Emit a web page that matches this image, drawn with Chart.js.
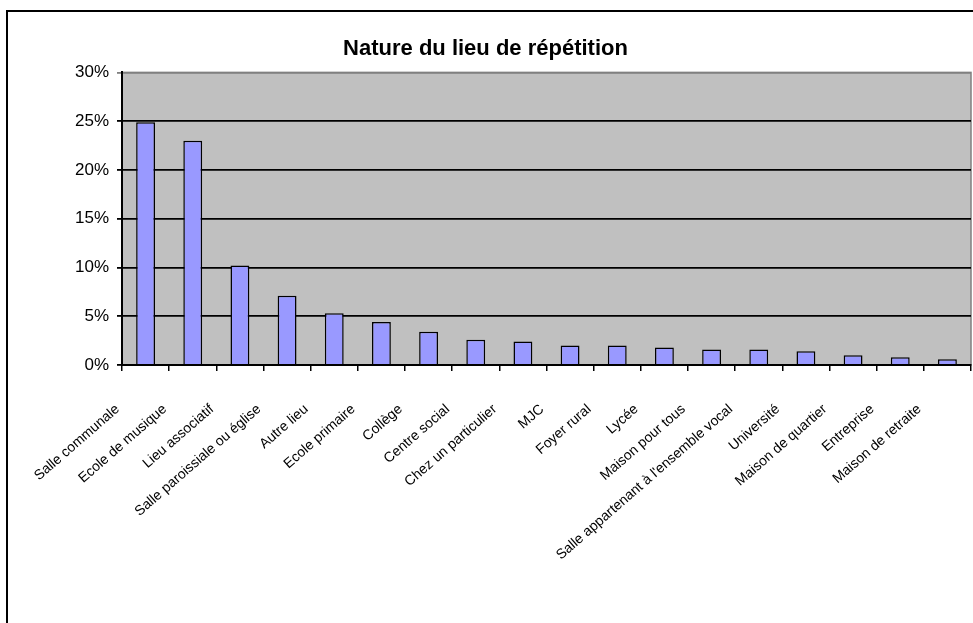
<!DOCTYPE html>
<html>
<head>
<meta charset="utf-8">
<script src="https://cdn.jsdelivr.net/npm/chart.js@4.4.0/dist/chart.umd.min.js"></script>
<style>
html,body{margin:0;padding:0;background:#fff;overflow:hidden}
#wrap{position:relative;width:973px;height:623px}
</style>
</head>
<body>
<div id="wrap"><canvas id="c"></canvas></div>
<script>
const chartTitle = "Nature du lieu de répétition";
const categories = [
  "Salle communale",
  "Ecole de musique",
  "Lieu associatif",
  "Salle paroissiale ou église",
  "Autre lieu",
  "Ecole primaire",
  "Collège",
  "Centre social",
  "Chez un particulier",
  "MJC",
  "Foyer rural",
  "Lycée",
  "Maison pour tous",
  "Salle appartenant à l'ensemble vocal",
  "Université",
  "Maison de quartier",
  "Entreprise",
  "Maison de retraite"
];
const values = [24.9, 23.0, 10.2, 7.1, 5.3, 4.4, 3.4, 2.6, 2.4, 2.0, 2.0, 1.8, 1.6, 1.6, 1.4, 1.0, 0.8, 0.6];
const yMin = 0, yMax = 30, yStep = 5;

const FONT = "'Liberation Sans', Arial, sans-serif";

const framePlugin = {
  id: 'frame',
  beforeDraw(chart) {
    const {ctx, chartArea: a} = chart;
    ctx.save();
    ctx.fillStyle = '#fff';
    ctx.fillRect(0, 0, chart.width, chart.height);
    ctx.strokeStyle = '#000';
    ctx.lineWidth = 2;
    ctx.strokeRect(7, 11, chart.width + 40, chart.height + 40);
    ctx.fillStyle = '#c0c0c0';
    ctx.fillRect(a.left, a.top, a.right - a.left, a.bottom - a.top);
    ctx.strokeStyle = '#808080';
    ctx.lineWidth = 1.5;
    ctx.strokeRect(a.left, a.top, a.right - a.left, a.bottom - a.top);
    ctx.restore();
  }
};

new Chart(document.getElementById('c'), {
  type: 'bar',
  data: {
    labels: categories,
    datasets: [{
      data: values,
      backgroundColor: '#9999ff',
      borderColor: '#000',
      borderWidth: 1.5,
      barPercentage: 0.4,
      categoryPercentage: 1
    }]
  },
  options: {
    responsive: true,
    maintainAspectRatio: false,
    animation: false,
    layout: {padding: {left: 0, right: 2, top: 0, bottom: 0}},
    plugins: {
      legend: {display: false},
      tooltip: {enabled: false},
      title: {
        display: true,
        text: chartTitle,
        color: '#000',
        font: {family: FONT, size: 22, weight: 'bold'},
        padding: {top: 36, bottom: 10}
      }
    },
    scales: {
      x: {
        type: 'category',
        grid: {offset: true, drawOnChartArea: false, drawTicks: true, tickLength: 6, color: '#000', lineWidth: 1.5},
        border: {color: '#000', width: 2},
        ticks: {
          autoSkip: false, maxRotation: 41, minRotation: 41,
          color: '#000',
          font: {family: FONT, size: 14},
          padding: 30,
          labelOffset: -28
        },
        afterFit(s) { s.height = 258; s.paddingLeft = 0; s.paddingRight = 0; }
      },
      y: {
        min: yMin, max: yMax,
        ticks: {
          stepSize: yStep,
          color: '#000',
          font: {family: FONT, size: 17},
          padding: 8,
          callback: v => v + '%'
        },
        grid: {
          color: c => (c.tick && c.tick.value === yMax) ? '#808080' : '#000',
          lineWidth: 1.8,
          tickLength: 5,
          drawTicks: true
        },
        border: {color: '#000', width: 2},
        afterFit(s) { s.width = 122; }
      }
    }
  },
  plugins: [framePlugin]
});
</script>
</body>
</html>
